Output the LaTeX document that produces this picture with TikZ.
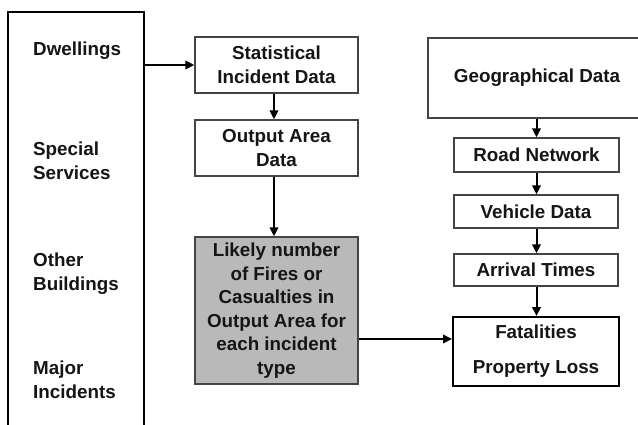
\documentclass[tikz,border=0pt]{standalone}
\usepackage{fontspec}
\setmainfont{Liberation Sans}
\usepackage{xcolor}
\usepackage{tikz}
\usetikzlibrary{arrows.meta, positioning}

\definecolor{boxline}{HTML}{444444}
\definecolor{textcol}{HTML}{151515}

\begin{document}
\begin{tikzpicture}[
    x=1pt, y=-1pt,
    every node/.style={text=textcol, font=\fontsize{18.8}{23.5}\selectfont\bfseries, inner sep=0pt},
    databox/.style={draw=boxline, line width=1.3pt, align=center},
    graybox/.style={databox, fill=gray!55},
    endbox/.style={draw=black, line width=2pt, align=center},
    catlabel/.style={anchor=west, align=left, font=\fontsize{18.8}{24}\selectfont\bfseries},
    flow/.style={-{Triangle[length=9pt, width=8.5pt]}, line width=2pt, black},
]
\clip (0,0) rectangle (638,424);
\fill[white] (0,0) rectangle (638,424);

% incident categories
\node (cats) at (76,219.5) [draw=black, line width=1.5pt, minimum width=136pt, minimum height=415pt] {};
\node[catlabel] (dw) at (33,51) {Dwellings};
\node[catlabel] (ss) at (33,161) {Special\\Services};
\node[catlabel] (ob) at (33,273.5) {Other\\Buildings};
\node[catlabel] (mi) at (33,379.5) {Major\\Incidents};

% incident side
\node (stats) at (276.5,65) [databox, minimum width=163pt, minimum height=56pt] {Statistical\\Incident Data};
\node (oarea) at (276.5,148) [databox, minimum width=163pt, minimum height=56pt] {Output Area\\Data};
\node (likely) at (276.5,310.5) [graybox, minimum width=163pt, minimum height=147pt]
    {Likely number\\of Fires or\\Casualties in\\Output Area for\\each incident\\type};

% response side
\node (geo) at (534,78) [databox, minimum width=212pt, minimum height=80pt] {\hspace*{6pt}Geographical Data};
\node (road) at (536.5,155) [databox, minimum width=165pt, minimum height=34pt] {Road Network};
\node (veh) at (536,211.5) [databox, minimum width=164pt, minimum height=33pt] {Vehicle Data};
\node (arr) at (536,270) [databox, minimum width=164pt, minimum height=32pt] {Arrival Times};
\node (fatal) at (536,351.5) [endbox, minimum width=166pt, minimum height=69pt,
    font=\fontsize{18.8}{35}\selectfont\bfseries] {\raisebox{-3pt}{Fatalities}\\\raisebox{-3pt}{Property Loss}};

\draw[flow] (cats.east |- stats.west) -- (stats.west);
\draw[flow] ([xshift=-2.5pt]stats.south) -- ([xshift=-2.5pt]oarea.north);
\draw[flow] ([xshift=-2.5pt]oarea.south) -- ([xshift=-2.5pt]likely.north);
\draw[flow] ([yshift=-28.5pt]likely.east) -- ([yshift=-28.5pt]likely.east -| fatal.west);

\draw[flow] (road.north |- geo.south) -- (road.north);
\draw[flow] (road.south) -- (road.south |- veh.north);
\draw[flow] (road.south |- veh.south) -- (road.south |- arr.north);
\draw[flow] (road.south |- arr.south) -- (road.south |- fatal.north);

\end{tikzpicture}
\end{document}
